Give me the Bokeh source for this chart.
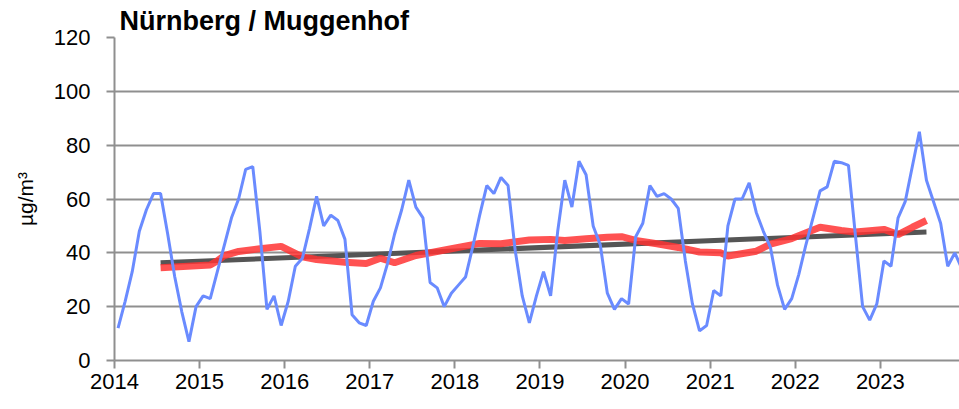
from bokeh.plotting import figure
from bokeh.models import Range1d, FixedTicker
from bokeh.embed import file_html
from bokeh.resources import INLINE

# ---- data ----
title_text = "Nürnberg / Muggenhof"
unit_label = "µg/m³"
years = [2014, 2015, 2016, 2017, 2018, 2019, 2020, 2021, 2022, 2023]
year_labels = ["2014", "2015", "2016", "2017", "2018", "2019", "2020", "2021", "2022", "2023"]
y_ticks = [0, 20, 40, 60, 80, 100, 120]

# monthly mean values (Jan..Dec)
m2014 = [12, 22, 33, 48, 56, 62, 62, 47, 31, 18, 7, 20]
m2015 = [24, 23, 33, 43, 53, 60, 71, 72, 48, 19, 24, 13]
m2016 = [22, 35, 38, 49, 61, 50, 54, 52, 45, 17, 14, 13]
m2017 = [22, 27, 36, 47, 56, 67, 57, 53, 29, 27, 20, 25]
m2018 = [28, 31, 42, 54, 65, 62, 68, 65, 41, 24, 14, 24]
m2019 = [33, 24, 48, 67, 57, 74, 69, 50, 43, 25, 19, 23]
m2020 = [21, 46, 51, 65, 61, 62, 60, 56.5, 37, 21, 11, 13]
m2021 = [26, 24, 50, 60, 60, 66, 55, 48, 42, 28, 19, 23]
m2022 = [32, 43, 53, 63, 64.5, 74, 73.5, 72.5, 46, 20, 15, 21]
m2023 = [37, 35, 53, 59, 72, 85, 67, 59, 51, 35, 40, 34]

# 12-month running mean (month index since Jan 2014, value)
mean_month = [6, 13, 14, 15, 17, 20, 23, 26, 28, 32, 35, 37, 39, 42, 47, 51, 54, 58,
              61, 63, 66, 69, 71, 73, 76, 79, 82, 85, 86, 90, 92, 95, 99, 102, 104,
              108, 110, 112, 114]
mean_value = [34.5, 35.5, 37, 39, 40.5, 41.5, 42.4, 38.5, 37.5, 36.5, 36, 38, 36.3, 39,
              41.5, 43.5, 43.4, 44.8, 45, 44.6, 45.2, 45.8, 46, 44.6, 43.4, 42, 40.3,
              40, 38.8, 40.6, 43.2, 45.3, 49.5, 48.3, 47.7, 48.7, 46.8, 49.5, 52]

# linear trend (start / end)
trend_month = [6, 114]
trend_value = [36.3, 47.7]

monthly = m2014 + m2015 + m2016 + m2017 + m2018 + m2019 + m2020 + m2021 + m2022 + m2023


def pos(i):
    return years[0] + (i + 0.5) / 12.0


xs = [pos(i) for i in range(len(monthly))]
mean_x = [pos(i) for i in mean_month]
trend_x = [pos(i) for i in trend_month]

FONT = "Liberation Sans"
GRID = "#8f8f8f"

p = figure(width=959, height=406, output_backend="svg", toolbar_location=None,
           title=title_text,
           x_range=Range1d(2014, 2023.93), y_range=Range1d(0, 120),
           min_border_left=114, min_border_right=0, min_border_top=37,
           min_border_bottom=46, outline_line_color=None)

p.title.text_font = FONT
p.title.text_font_style = "bold"
p.title.text_font_size = "27px"
p.title.text_color = "#000000"
p.title.align = "left"
p.title.offset = 5
p.title.standoff = 4

p.line(trend_x, trend_value, line_color="#555555", line_width=5)
p.line(mean_x, mean_value, line_color="#ff3434", line_width=7, line_alpha=0.85)
p.line(xs, monthly, line_color="#6a8bff", line_width=3)

p.xgrid.visible = False
p.ygrid.ticker = FixedTicker(ticks=y_ticks)
p.ygrid.grid_line_color = GRID
p.ygrid.grid_line_width = 2

p.xaxis.ticker = FixedTicker(ticks=years)
p.xaxis.major_label_overrides = {y: l for y, l in zip(years, year_labels)}
p.yaxis.ticker = FixedTicker(ticks=y_ticks)

for ax in (p.xaxis[0], p.yaxis[0]):
    ax.axis_line_color = GRID
    ax.axis_line_width = 2
    ax.major_tick_line_color = GRID
    ax.major_tick_line_width = 2
    ax.minor_tick_line_color = None
    ax.major_tick_in = 0
    ax.major_label_text_font = FONT
    ax.major_label_text_font_size = "22px"
    ax.major_label_text_color = "#000000"

p.xaxis.major_tick_out = 8
p.xaxis.major_label_standoff = 5
p.yaxis.major_tick_out = 8
p.yaxis.major_label_standoff = 16

p.yaxis.axis_label = unit_label
p.yaxis.axis_label_text_font = FONT
p.yaxis.axis_label_text_font_size = "21px"
p.yaxis.axis_label_text_font_style = "normal"
p.yaxis.axis_label_text_color = "#000000"
p.yaxis.axis_label_standoff = 14

open("out.html", "w").write(file_html(p, INLINE))
